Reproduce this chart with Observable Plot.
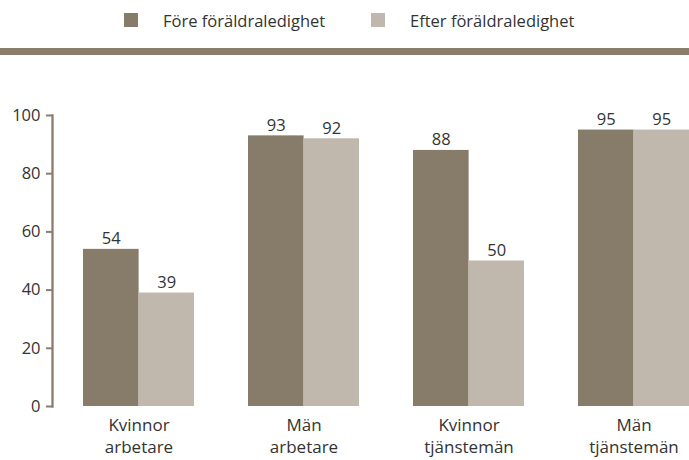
<!DOCTYPE html>
<html><head><meta charset="utf-8">
<script src="https://cdn.jsdelivr.net/npm/d3@7"></script>
<script src="https://cdn.jsdelivr.net/npm/@observablehq/plot@0.6"></script>
<style>
body{margin:0;background:#fff;font-family:"Open Sans",sans-serif;color:#333;}
#legend{position:relative;height:48px;}
.item{position:absolute;top:6px;height:28px;display:flex;align-items:center;font-size:16.5px;white-space:nowrap;}
.sw{width:14px;height:14px;margin-right:25px;}
#band{height:7px;background:#8b7d6b;}
</style></head><body>
<div id="legend"></div>
<div id="band"></div>
<div id="chart"></div>
<script>
const groups = ["Kvinnor\narbetare","Män\narbetare","Kvinnor\ntjänstemän","Män\ntjänstemän"];
const series = ["Före föräldraledighet","Efter föräldraledighet"];
const fore = [54,93,88,95];
const efter = [39,92,50,95];
const yTicks = [0,20,40,60,80,100];
const colors = ["#877b6a","#c1b8ad"];

const leg = document.getElementById("legend");
[[124,0],[371,1]].forEach(([x,i])=>{
  const d=document.createElement("div");d.className="item";d.style.left=x+"px";
  d.innerHTML=`<span class="sw" style="background:${colors[i]}"></span><span>${series[i]}</span>`;
  leg.appendChild(d);
});

const data = [];
groups.forEach((g,i)=>{data.push({g, s:series[0], v:fore[i]});data.push({g, s:series[1], v:efter[i]});});
const half = 55.4;
const chart = Plot.plot({
  width:689, height:405, marginTop:60, marginBottom:54, marginLeft:52, marginRight:0,
  style:{fontFamily:"Open Sans, sans-serif", fontSize:"16px", color:"#333"},
  x:{domain:groups, paddingInner:0.33, paddingOuter:0.09, align:1, axis:null},
  y:{domain:[0,100], axis:null},
  color:{domain:series, range:colors},
  marks:[
    Plot.barY(data.filter(d=>d.s===series[0]),{x:"g",y:"v",fill:colors[0],insetRight:half}),
    Plot.barY(data.filter(d=>d.s===series[1]),{x:"g",y:"v",fill:colors[1],insetLeft:half}),
    Plot.text(data.filter(d=>d.s===series[0]),{x:"g",y:"v",text:"v",dx:-half/2,dy:-5,lineAnchor:"bottom",fill:"#333",fontSize:16.5}),
    Plot.text(data.filter(d=>d.s===series[1]),{x:"g",y:"v",text:"v",dx:half/2,dy:-5,lineAnchor:"bottom",fill:"#333",fontSize:16.5}),
    Plot.axisX({tickSize:0, tickPadding:9, lineHeight:1.3, fontSize:17, fill:"#333", label:null}),
    Plot.axisY({ticks:yTicks, tickSize:6, tickPadding:6, stroke:"#8b7d6b", strokeWidth:2, fontSize:16.5, fill:"#333", label:null}),
    Plot.frame({anchor:"left", stroke:"#8b7d6b", strokeWidth:2.3})
  ]
});
document.getElementById("chart").appendChild(chart);
</script></body></html>
